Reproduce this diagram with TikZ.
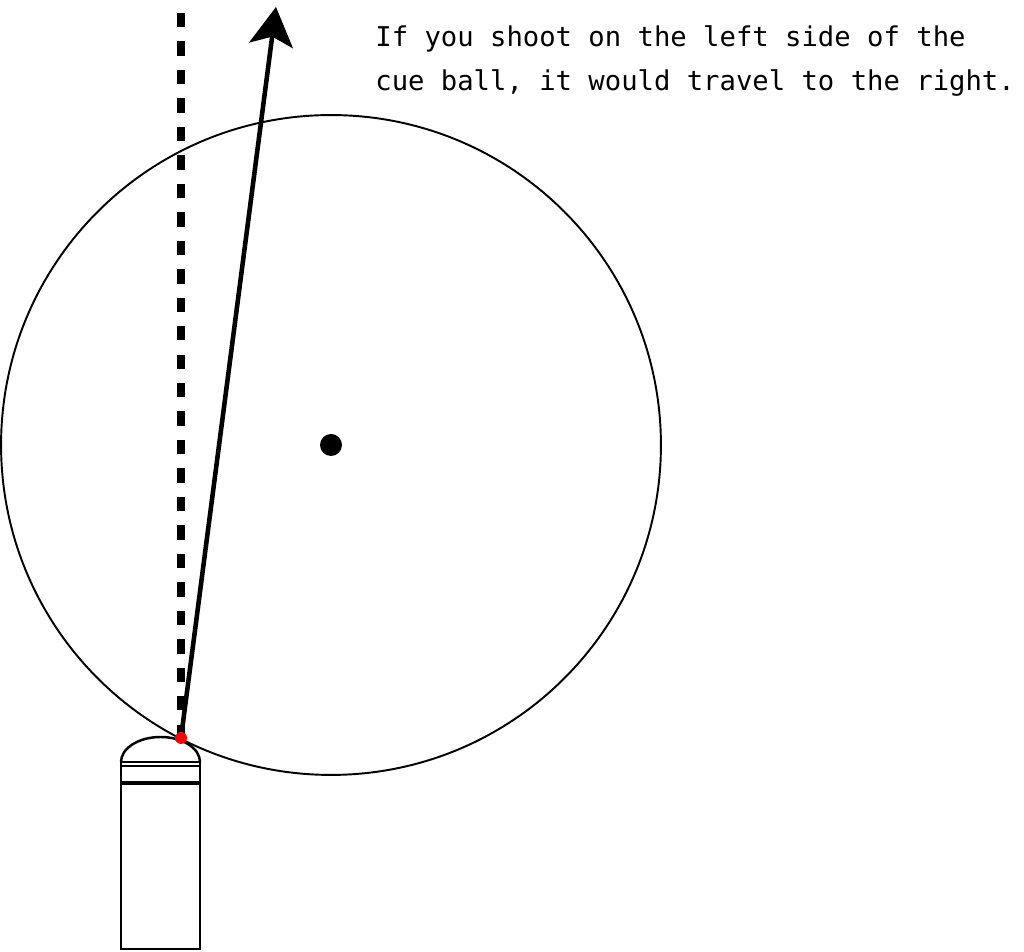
\documentclass[tikz,border=0pt]{standalone}
\usepackage{fontspec}
\newfontfamily\notefont{DejaVu Sans Mono}
\usetikzlibrary{arrows.meta}

\begin{document}
\begin{tikzpicture}[
    x=0.02cm, y=0.02cm,
    ball/.style={draw, circle, line width=1.1pt, minimum size=13.2cm, inner sep=0pt},
    spot/.style={fill=black, circle, minimum size=0.44cm, inner sep=0pt},
    contact/.style={fill=red, circle, minimum size=0.24cm, inner sep=0pt},
    aimline/.style={line width=4.2pt, dash pattern=on 8.2pt off 8pt},
    shot/.style={-{Stealth[length=22pt,width=25pt,inset=5pt]}, line width=2.6pt},
    cuebody/.style={line width=1.4pt},
    note/.style={font=\notefont\fontsize{15.5pt}{25.5pt}\selectfont, align=left, anchor=north west, inner sep=0pt}
]
\useasboundingbox (0,0) rectangle (1024,952);

% Cue ball
\node[ball] (ball) at (331,507) {};
\node[spot] (center) at (ball.center) {};

% Aim line and shot direction
\coordinate (hit) at (181,214);
\coordinate (aimtop) at (181,939);
\coordinate (tip) at (276,945);
\draw[aimline] (aimtop) -- (hit);
\draw[shot] (hit) -- (tip);

% Cue stick
\draw[cuebody] (121,3) rectangle (200,190);
\draw[cuebody] (121,190) arc[start angle=180, end angle=0, x radius=39.5, y radius=25];
\draw[line width=1pt] (121,186) -- (200,186);
\draw[line width=2pt] (121,169) -- (200,169);
\node[contact] (hitdot) at (hit) {};

% Explanation
\node[note] (text) at (375,927) {If you shoot on the left side of the\\cue ball, it would travel to the right.};

\end{tikzpicture}
\end{document}
